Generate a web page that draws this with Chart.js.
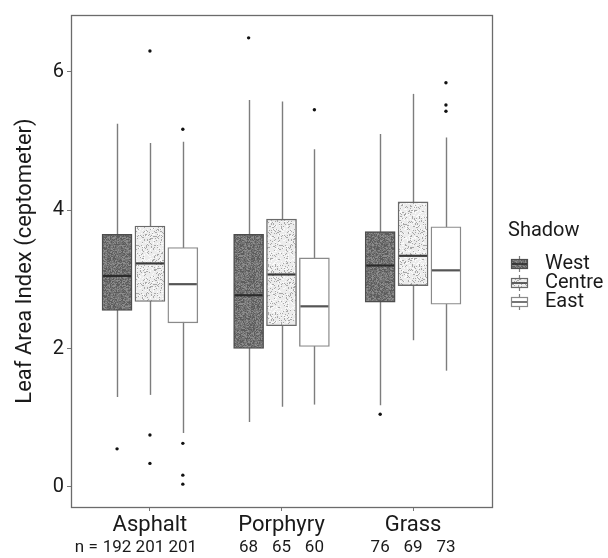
<!DOCTYPE html>
<html>
<head>
<meta charset="utf-8">
<script src="https://cdn.jsdelivr.net/npm/chart.js@4.4.1/dist/chart.umd.min.js"></script>
<style>
  html, body { margin: 0; padding: 0; background: #fff; }
</style>
</head>
<body>
<canvas id="chart" width="608" height="558"></canvas>
<script>
const groups = ['Asphalt', 'Porphyry', 'Grass'];
const shadows = ['West', 'Centre', 'East'];
const yTicks = [0, 2, 4, 6];

// sample sizes, one value per group
const westN = [192, 68, 76];
const centreN = [201, 65, 69];
const eastN = [201, 60, 73];

// box statistics
const westLow = [1.30, 0.94, 1.18];
const westQ1 = [2.55, 2.00, 2.67];
const westMed = [3.05, 2.77, 3.20];
const westQ3 = [3.65, 3.65, 3.69];
const westHigh = [5.25, 5.59, 5.10];
const westOut = [[0.55], [6.49], [1.05]];

const centreLow = [1.33, 1.16, 2.12];
const centreQ1 = [2.68, 2.33, 2.91];
const centreMed = [3.23, 3.07, 3.34];
const centreQ3 = [3.77, 3.87, 4.12];
const centreHigh = [4.97, 5.57, 5.68];
const centreOut = [[6.30, 0.75, 0.34], [], []];

const eastLow = [0.78, 1.19, 1.68];
const eastQ1 = [2.37, 2.03, 2.64];
const eastMed = [2.93, 2.61, 3.13];
const eastQ3 = [3.46, 3.31, 3.76];
const eastHigh = [4.99, 4.88, 5.05];
const eastOut = [[5.17, 0.63, 0.17, 0.04], [5.45], [5.84, 5.52, 5.43]];

const FONT = 'Roboto, "Noto Sans", sans-serif';
const TEXT = '#1a1a1a';

// stippled fill like the printed figure (fixed seed so it is the same every time)
function texture(base, dark, light, density, seed) {
    const c = document.createElement('canvas');
    c.width = c.height = 48;
    const g = c.getContext('2d');
    g.fillStyle = base;
    g.fillRect(0, 0, 48, 48);
    let s = seed;
    const next = () => (s = (s * 16807) % 2147483647) / 2147483647;
    for (let y = 0; y < 48; y++) {
        for (let x = 0; x < 48; x++) {
            const r = next();
            if (r < density) { g.fillStyle = dark; g.fillRect(x, y, 1, 1); }
            else if (r < density * 2) { g.fillStyle = light; g.fillRect(x, y, 1, 1); }
        }
    }
    return g.createPattern(c, 'repeat');
}

const series = [
    { low: westLow, q1: westQ1, med: westMed, q3: westQ3, high: westHigh, out: westOut, n: westN,
      fill: texture('#737373', '#5c5c5c', '#8c8c8c', 0.3, 7), border: '#4d4d4d', median: '#2b2b2b' },
    { low: centreLow, q1: centreQ1, med: centreMed, q3: centreQ3, high: centreHigh, out: centreOut, n: centreN,
      fill: texture('#ececec', '#a8a8a8', '#fbfbfb', 0.15, 11), border: '#6a6a6a', median: '#3a3a3a' },
    { low: eastLow, q1: eastQ1, med: eastMed, q3: eastQ3, high: eastHigh, out: eastOut, n: eastN,
      fill: '#ffffff', border: '#8a8a8a', median: '#555555' }
];

// dodge: groups sit at 1, 2, 3 and the three shadows are spread around them
const DODGE = 0.25;
const xPos = (g, s) => g + 1 + (s - 1) * DODGE;

const datasets = [];
series.forEach((sr, s) => {
    datasets.push({
        type: 'bar',
        label: shadows[s],
        data: groups.map((_, i) => ({ x: xPos(i, s), y: [sr.q1[i], sr.q3[i]] })),
        backgroundColor: sr.fill,
        borderColor: sr.border,
        borderWidth: 1.4,
        borderSkipped: false,
        grouped: false,
        barThickness: 30,
        order: 2
    });
});
series.forEach((sr, s) => {
    const pts = [];
    sr.out.forEach((vals, i) => vals.forEach(v => pts.push({ x: xPos(i, s), y: v })));
    datasets.push({
        type: 'scatter',
        label: shadows[s] + ' outliers',
        data: pts,
        pointRadius: 1.7,
        pointBackgroundColor: '#111',
        pointBorderWidth: 0,
        order: 1
    });
});

const boxExtras = {
    id: 'boxExtras',
    beforeDatasetsDraw(chart) {
        const { ctx, scales: { x, y } } = chart;
        ctx.save();
        ctx.strokeStyle = '#7d7d7d';
        ctx.lineWidth = 1.4;
        series.forEach((sr, s) => {
            groups.forEach((_, i) => {
                const px = Math.round(x.getPixelForValue(xPos(i, s))) + 0.5;
                ctx.beginPath();
                ctx.moveTo(px, y.getPixelForValue(sr.low[i]));
                ctx.lineTo(px, y.getPixelForValue(sr.high[i]));
                ctx.stroke();
            });
        });
        ctx.restore();
    },
    afterDatasetsDraw(chart) {
        const { ctx, chartArea: a, scales: { x, y } } = chart;
        ctx.save();
        // medians
        ctx.lineWidth = 2.2;
        series.forEach((sr, s) => {
            ctx.strokeStyle = sr.median;
            groups.forEach((_, i) => {
                const px = x.getPixelForValue(xPos(i, s));
                const py = y.getPixelForValue(sr.med[i]);
                ctx.beginPath();
                ctx.moveTo(px - 14, py);
                ctx.lineTo(px + 14, py);
                ctx.stroke();
            });
        });
        // panel frame
        ctx.strokeStyle = '#6b6b6b';
        ctx.lineWidth = 1.3;
        ctx.strokeRect(a.left + 0.5, a.top + 0.5, a.width, a.height);
        ctx.restore();
    },
    afterDraw(chart) {
        const { ctx, chartArea: a, scales: { x } } = chart;
        ctx.save();
        // sample sizes under the group names
        ctx.font = '17px ' + FONT;
        ctx.fillStyle = TEXT;
        ctx.textAlign = 'center';
        ctx.textBaseline = 'middle';
        const ny = a.bottom + 41;
        series.forEach((sr, s) => {
            groups.forEach((_, i) => {
                ctx.fillText(String(sr.n[i]), x.getPixelForValue(xPos(i, s)), ny);
            });
        });
        const firstX = x.getPixelForValue(xPos(0, 0)) - ctx.measureText(String(westN[0])).width / 2 - 5;
        ctx.textAlign = 'right';
        ctx.fillText('n =', firstX, ny);

        // legend
        const cy = (a.top + a.bottom) / 2;
        ctx.textAlign = 'left';
        ctx.font = '20px ' + FONT;
        ctx.fillText('Shadow', a.right + 16, cy - 30);
        series.forEach((sr, s) => {
            const iy = cy + 3 + s * 19;
            const ix = a.right + 27;
            ctx.strokeStyle = '#7d7d7d';
            ctx.lineWidth = 1.2;
            ctx.beginPath();
            ctx.moveTo(ix + 0.5, iy - 8);
            ctx.lineTo(ix + 0.5, iy + 8);
            ctx.stroke();
            ctx.fillStyle = sr.fill;
            ctx.fillRect(ix - 8, iy - 5, 17, 10);
            ctx.strokeStyle = sr.border;
            ctx.strokeRect(ix - 7.5, iy - 4.5, 16, 9);
            ctx.strokeStyle = sr.median;
            ctx.lineWidth = 1.6;
            ctx.beginPath();
            ctx.moveTo(ix - 7, iy);
            ctx.lineTo(ix + 8, iy);
            ctx.stroke();
            ctx.fillStyle = TEXT;
            ctx.fillText(shadows[s], a.right + 53, iy);
        });
        ctx.restore();
    }
};

new Chart(document.getElementById('chart'), {
    type: 'bar',
    data: { datasets },
    options: {
        responsive: false,
        animation: false,
        devicePixelRatio: 1,
        layout: { padding: { top: 13, right: 116, left: 0, bottom: 0 } },
        plugins: {
            legend: { display: false },
            tooltip: { enabled: false }
        },
        scales: {
            x: {
                type: 'linear',
                offset: false,
                min: 0.4,
                max: 3.6,
                afterBuildTicks: sc => { sc.ticks = groups.map((_, i) => ({ value: i + 1 })); },
                afterFit: sc => { sc.height = 51; },
                ticks: {
                    callback: v => groups[Math.round(v) - 1],
                    font: { family: FONT, size: 22 },
                    color: TEXT,
                    padding: 1,
                    maxRotation: 0
                },
                grid: { offset: false, drawOnChartArea: false, drawTicks: true, tickLength: 4, tickColor: '#777' },
                border: { display: false }
            },
            y: {
                min: -0.29,
                max: 6.82,
                afterBuildTicks: sc => { sc.ticks = yTicks.map(v => ({ value: v })); },
                afterFit: sc => { sc.width = 71; },
                ticks: {
                    font: { family: FONT, size: 20 },
                    color: TEXT,
                    padding: 3
                },
                grid: { drawOnChartArea: false, drawTicks: true, tickLength: 4, tickColor: '#777' },
                border: { display: false },
                title: {
                    display: true,
                    text: 'Leaf Area Index (ceptometer)',
                    font: { family: FONT, size: 22 },
                    color: TEXT,
                    padding: { top: 12, bottom: 0 }
                }
            }
        }
    },
    plugins: [boxExtras]
});
</script>
</body>
</html>
